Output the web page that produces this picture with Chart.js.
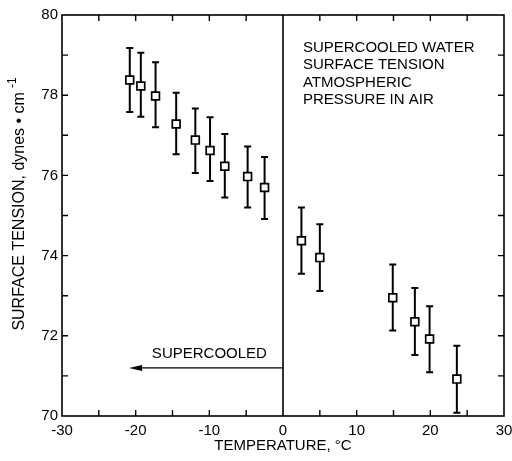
<!DOCTYPE html>
<html><head><meta charset="utf-8">
<script src="https://cdn.jsdelivr.net/npm/chart.js@4/dist/chart.umd.min.js"></script>
<style>html,body{margin:0;padding:0;background:#fff}#w{width:512px;height:461px}</style>
</head><body><div id="w"><canvas id="c"></canvas></div>
<script>
const temperature = [-20.8, -19.3, -17.3, -14.5, -11.9, -9.9, -7.9, -4.8, -2.5, 2.5, 5.0, 14.9, 17.9, 19.9, 23.6];
const tension     = [78.38, 78.23, 77.98, 77.28, 76.88, 76.62, 76.23, 75.97, 75.70, 74.37, 73.95, 72.95, 72.35, 71.92, 70.92];
const errUpper    = [79.18, 79.06, 78.82, 78.06, 77.67, 77.45, 77.03, 76.72, 76.46, 75.20, 74.78, 73.78, 73.19, 72.74, 71.75];
const errLower    = [77.58, 77.46, 77.20, 76.53, 76.06, 75.86, 75.45, 75.20, 74.91, 73.55, 73.12, 72.13, 71.52, 71.09, 70.08];
const xMinorTicks = [-25, -20, -15, -10, -5, 5, 10, 15, 20, 25];
const yMinorTicks = [71, 72, 73, 74, 75, 76, 77, 78, 79];
const noteLines = ['SUPERCOOLED WATER', 'SURFACE TENSION', 'ATMOSPHERIC', 'PRESSURE IN AIR'];
const noteAnchor = {x: 2.7, y: 79.18};
const arrowLine = {from: 0, to: -20.9, y: 71.2};
const arrowLabel = {text: 'SUPERCOOLED', x: -17.8, y: 71.55};
const yTitleMain = 'SURFACE TENSION, dynes \u2022 cm';
const yTitleSup = '-1';
const FONT = '"Liberation Sans", Arial, Helvetica, sans-serif';

const overlay = {
  id: 'overlay',
  beforeDatasetsDraw(chart) {
    const ctx = chart.ctx, xs = chart.scales.x, ys = chart.scales.y;
    ctx.save();
    ctx.strokeStyle = '#000'; ctx.lineWidth = 2;
    for (let i = 0; i < temperature.length; i++) {
      const px = xs.getPixelForValue(temperature[i]);
      const pt = ys.getPixelForValue(errUpper[i]);
      const pb = ys.getPixelForValue(errLower[i]);
      ctx.beginPath();
      ctx.moveTo(px, pt); ctx.lineTo(px, pb);
      ctx.moveTo(px - 3.5, pt); ctx.lineTo(px + 3.5, pt);
      ctx.moveTo(px - 3.5, pb); ctx.lineTo(px + 3.5, pb);
      ctx.stroke();
    }
    ctx.restore();
  },
  afterDatasetsDraw(chart) {
    const ctx = chart.ctx, xs = chart.scales.x, ys = chart.scales.y, a = chart.chartArea;
    ctx.save();
    ctx.strokeStyle = '#000'; ctx.fillStyle = '#000';
    ctx.lineWidth = 1.6;
    ctx.strokeRect(a.left, a.top, a.right - a.left, a.bottom - a.top);
    ctx.lineWidth = 1.4;
    ctx.beginPath();
    xMinorTicks.forEach(v => {
      const px = xs.getPixelForValue(v);
      ctx.moveTo(px, a.bottom); ctx.lineTo(px, a.bottom - 6);
      ctx.moveTo(px, a.top); ctx.lineTo(px, a.top + 6);
    });
    yMinorTicks.forEach(v => {
      const py = ys.getPixelForValue(v);
      ctx.moveTo(a.left, py); ctx.lineTo(a.left + 6, py);
      ctx.moveTo(a.right, py); ctx.lineTo(a.right - 6, py);
    });
    ctx.stroke();
    const x0 = xs.getPixelForValue(0);
    ctx.lineWidth = 1.6;
    ctx.beginPath(); ctx.moveTo(x0, a.top); ctx.lineTo(x0, a.bottom); ctx.stroke();
    const ay = ys.getPixelForValue(arrowLine.y);
    const ax1 = xs.getPixelForValue(arrowLine.from), ax2 = xs.getPixelForValue(arrowLine.to);
    ctx.lineWidth = 1.3;
    ctx.beginPath(); ctx.moveTo(ax1, ay); ctx.lineTo(ax2 + 10, ay); ctx.stroke();
    ctx.beginPath(); ctx.moveTo(ax2, ay); ctx.lineTo(ax2 + 13, ay - 3); ctx.lineTo(ax2 + 13, ay + 3); ctx.closePath(); ctx.fill();
    ctx.font = '15px ' + FONT;
    ctx.textBaseline = 'middle'; ctx.textAlign = 'left';
    ctx.fillText(arrowLabel.text, xs.getPixelForValue(arrowLabel.x), ys.getPixelForValue(arrowLabel.y));
    const nx = xs.getPixelForValue(noteAnchor.x), ny = ys.getPixelForValue(noteAnchor.y);
    noteLines.forEach((t, i) => ctx.fillText(t, nx, ny + i * 17.3));
    ctx.translate(20, 204);
    ctx.rotate(-Math.PI / 2);
    ctx.font = '16px ' + FONT;
    const wMain = ctx.measureText(yTitleMain).width;
    ctx.font = '12px ' + FONT;
    const wSup = ctx.measureText(yTitleSup).width;
    const total = wMain + 4 + wSup;
    ctx.font = '16px ' + FONT;
    ctx.fillText(yTitleMain, -total / 2, 0);
    ctx.font = '12px ' + FONT;
    ctx.fillText(yTitleSup, -total / 2 + wMain + 4, -7);
    ctx.restore();
  }
};

new Chart(document.getElementById('c'), {
  type: 'scatter',
  data: {
    datasets: [{
      data: temperature.map((t, i) => ({x: t, y: tension[i]})),
      pointStyle: 'rect', pointRadius: 5.5, pointHoverRadius: 5.5,
      backgroundColor: '#fff', borderColor: '#000', borderWidth: 1.7
    }]
  },
  options: {
    responsive: true, maintainAspectRatio: false, animation: false,
    layout: {padding: {top: 15, right: 0, left: 0, bottom: 0}},
    plugins: {legend: {display: false}, tooltip: {enabled: false}},
    scales: {
      x: {
        type: 'linear', min: -30, max: 30,
        afterFit: s => { s.height = 45; s.paddingRight = 8; s.paddingLeft = 0; },
        grid: {display: false, drawTicks: false},
        border: {display: false},
        ticks: {stepSize: 10, padding: 6, color: '#000', font: {family: FONT, size: 15}, maxRotation: 0},
        title: {display: true, text: 'TEMPERATURE, \u00B0C', color: '#000', font: {family: FONT, size: 15}, padding: {top: 0, bottom: 6}}
      },
      y: {
        type: 'linear', min: 70, max: 80,
        afterFit: s => { s.width = 62; },
        grid: {display: false, drawTicks: false},
        border: {display: false},
        ticks: {stepSize: 2, padding: 4, color: '#000', font: {family: FONT, size: 15}}
      }
    }
  },
  plugins: [overlay]
});
</script>
</body></html>
